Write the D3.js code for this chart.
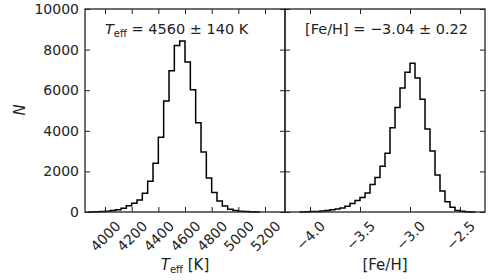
<!DOCTYPE html>
<html>
<head>
<meta charset="utf-8">
<script src="https://cdn.jsdelivr.net/npm/d3@7"></script>
<style>
  body { margin: 0; background: #fff; }
  text { font-family: "DejaVu Sans", sans-serif; fill: #222; }
</style>
</head>
<body>
<svg id="chart" width="500" height="280"></svg>
<script>
// left panel: Teff histogram (bin start edges, width 40 K)
const teffBins = [3880, 3920, 3960, 4000, 4040, 4080, 4120, 4160, 4200, 4240, 4280,
  4320, 4360, 4400, 4440, 4480, 4520, 4560, 4600, 4640, 4680, 4720, 4760, 4800,
  4840, 4880, 4920, 4960, 5000, 5040, 5080, 5120];
const teffCounts = [5, 10, 20, 40, 70, 110, 180, 310, 430, 590, 920,
  1510, 2400, 3680, 5470, 6960, 8200, 8420, 7390, 6020, 4400, 2950, 1680, 960,
  540, 300, 130, 75, 35, 20, 10, 5];
const teffWidth = 40;

// right panel: [Fe/H] histogram (bin start edges, width 0.05 dex)
const fehBins = [-4.10, -4.05, -4.00, -3.95, -3.90, -3.85, -3.80, -3.75, -3.70, -3.65,
  -3.60, -3.55, -3.50, -3.45, -3.40, -3.35, -3.30, -3.25, -3.20, -3.15, -3.10, -3.05,
  -3.00, -2.95, -2.90, -2.85, -2.80, -2.75, -2.70, -2.65, -2.60, -2.55, -2.50, -2.45, -2.40];
const fehCounts = [5, 10, 20, 30, 50, 75, 105, 150, 200, 280,
  420, 570, 720, 940, 1360, 1700, 2250, 2890, 4150, 5150, 6110, 6890,
  7325, 6600, 5550, 4090, 3005, 1820, 1035, 510, 230, 80, 35, 12, 4];
const fehWidth = 0.05;

const yTicks = [0, 2000, 4000, 6000, 8000, 10000];
const teffTicks = [4000, 4200, 4400, 4600, 4800, 5000, 5200];
const fehTicks = [-4.0, -3.5, -3.0, -2.5];

const svg = d3.select("#chart");
const yTop = 9, yBot = 212;
const y = d3.scaleLinear().domain([0, 10000]).range([yBot, yTop]);

function panel(x0, x1, domain, bins, counts, binW, xTicks, fmt, showY) {
  const x = d3.scaleLinear().domain(domain).range([x0, x1]);
  const g = svg.append("g");

  // step outline
  const pts = [[bins[0], 0]];
  bins.forEach((b, i) => { pts.push([b, counts[i]]); pts.push([b + binW, counts[i]]); });
  pts.push([bins[bins.length - 1] + binW, 0]);
  g.append("path")
    .attr("d", d3.line().x(d => x(d[0])).y(d => y(d[1]))(pts))
    .attr("fill", "none").attr("stroke", "#000").attr("stroke-width", 1.5)
    .attr("stroke-linejoin", "miter");

  // bottom axis with rotated labels
  const bx = g.append("g").attr("transform", "translate(0," + yBot + ")")
    .call(d3.axisBottom(x).tickValues(xTicks).tickSize(-5).tickFormat(fmt));
  bx.selectAll("text")
    .attr("y", 0).attr("dy", null)
    .attr("dominant-baseline", "central")
    .attr("text-anchor", "middle")
    .style("font-size", "14px")
    .attr("transform", function () {
      const w = this.getComputedTextLength();
      return "translate(0," + (8 + (w + 10) * 0.7071 / 2) + ") rotate(-45)";
    });
  // top axis
  g.append("g").attr("transform", "translate(0," + yTop + ")")
    .call(d3.axisTop(x).tickValues(xTicks).tickSize(-5).tickFormat(""));
  // left / right ticks
  const ly = g.append("g").attr("transform", "translate(" + x0 + ",0)")
    .call(d3.axisLeft(y).tickValues(yTicks).tickSize(-5).tickPadding(6)
      .tickFormat(showY ? d3.format("d") : ""));
  ly.selectAll("text").style("font-size", "14px");
  g.append("g").attr("transform", "translate(" + x1 + ",0)")
    .call(d3.axisRight(y).tickValues(yTicks).tickSize(-5).tickFormat(""));

  g.selectAll(".domain").remove();
  g.selectAll(".tick line").attr("stroke", "#222").attr("stroke-width", 1);
  g.selectAll(".tick text").attr("fill", "#333").attr("font-family", "DejaVu Sans");

  g.append("rect")
    .attr("x", x0).attr("y", yTop).attr("width", x1 - x0).attr("height", yBot - yTop)
    .attr("fill", "none").attr("stroke", "#222").attr("stroke-width", 1.3);
  return x;
}

panel(85, 285, [3850, 5350], teffBins, teffCounts, teffWidth, teffTicks, d3.format("d"), true);
panel(285, 485, [-4.25, -2.25], fehBins, fehCounts, fehWidth, fehTicks,
  d => d3.format(".1f")(d).replace("-", "\u2212"), false);

// annotations
const a1 = svg.append("text").attr("x", 105).attr("y", 34).style("font-size", "14.5px");
a1.append("tspan").text("T").style("font-style", "italic");
a1.append("tspan").text("eff").style("font-size", "10px").attr("dy", 3);
a1.append("tspan").text(" = 4560 \u00b1 140 K").attr("dy", -3);

svg.append("text").attr("x", 305).attr("y", 34).style("font-size", "14.5px")
  .text("[Fe/H] = \u22123.04 \u00b1 0.22");

// axis labels
const xl = svg.append("text").attr("x", 185).attr("y", 270)
  .attr("text-anchor", "middle").style("font-size", "15px");
xl.append("tspan").text("T").style("font-style", "italic");
xl.append("tspan").text("eff").style("font-size", "10px").attr("dy", 3);
xl.append("tspan").text(" [K]").attr("dy", -3);

svg.append("text").attr("x", 385).attr("y", 270)
  .attr("text-anchor", "middle").style("font-size", "15px").text("[Fe/H]");

svg.append("text").attr("transform", "translate(25,110) rotate(-90)")
  .attr("text-anchor", "middle").style("font-size", "15px").style("font-style", "italic")
  .text("N");
</script>
</body>
</html>
